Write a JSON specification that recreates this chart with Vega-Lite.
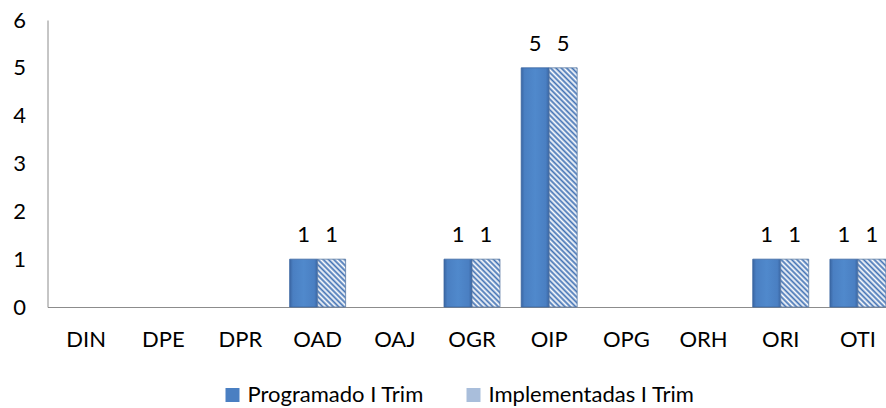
{
  "$schema": "https://vega.github.io/schema/vega-lite/v6.json",
  "autosize": {"type": "none"},
  "width": 838.5,
  "height": 287,
  "padding": {"left": 47.5, "top": 20, "right": 0, "bottom": 101},
  "background": "white",
  "config": {
    "view": {"stroke": null},
    "font": "Lato",
    "axis": {"labelFont": "Lato", "labelColor": "#000000", "labelFontSize": 22, "ticks": false, "grid": false, "domainColor": "#8c8c8c", "domainWidth": 1, "title": null},
    "legend": {"labelFont": "Lato", "labelFontSize": 22, "labelColor": "#000000", "labelLimit": 0}
  },
  "data": {
    "values": [
      {"cat": "DIN", "series": "Programado I Trim", "value": 0},
      {"cat": "DIN", "series": "Implementadas I Trim", "value": 0},
      {"cat": "DPE", "series": "Programado I Trim", "value": 0},
      {"cat": "DPE", "series": "Implementadas I Trim", "value": 0},
      {"cat": "DPR", "series": "Programado I Trim", "value": 0},
      {"cat": "DPR", "series": "Implementadas I Trim", "value": 0},
      {"cat": "OAD", "series": "Programado I Trim", "value": 1},
      {"cat": "OAD", "series": "Implementadas I Trim", "value": 1},
      {"cat": "OAJ", "series": "Programado I Trim", "value": 0},
      {"cat": "OAJ", "series": "Implementadas I Trim", "value": 0},
      {"cat": "OGR", "series": "Programado I Trim", "value": 1},
      {"cat": "OGR", "series": "Implementadas I Trim", "value": 1},
      {"cat": "OIP", "series": "Programado I Trim", "value": 5},
      {"cat": "OIP", "series": "Implementadas I Trim", "value": 5},
      {"cat": "OPG", "series": "Programado I Trim", "value": 0},
      {"cat": "OPG", "series": "Implementadas I Trim", "value": 0},
      {"cat": "ORH", "series": "Programado I Trim", "value": 0},
      {"cat": "ORH", "series": "Implementadas I Trim", "value": 0},
      {"cat": "ORI", "series": "Programado I Trim", "value": 1},
      {"cat": "ORI", "series": "Implementadas I Trim", "value": 1},
      {"cat": "OTI", "series": "Programado I Trim", "value": 1},
      {"cat": "OTI", "series": "Implementadas I Trim", "value": 1}
    ]
  },
  "encoding": {
    "x": {
      "field": "cat", "type": "nominal",
      "scale": {"domain": ["DIN","DPE","DPR","OAD","OAJ","OGR","OIP","OPG","ORH","ORI","OTI"], "range": [0, 849], "paddingInner": 0.275, "paddingOuter": 0.1375},
      "axis": {"labelAngle": 0, "labelPadding": 22, "title": null}
    },
    "xOffset": {
      "field": "series", "type": "nominal",
      "scale": {"domain": ["Programado I Trim", "Implementadas I Trim"], "paddingInner": 0, "paddingOuter": 0}
    },
    "y": {
      "field": "value", "type": "quantitative",
      "scale": {"domain": [0, 6], "nice": false},
      "axis": {"values": [0,1,2,3,4,5,6], "labelPadding": 22, "title": null}
    }
  },
  "layer": [
    {
      "transform": [{"filter": "datum.value > 0"}],
      "mark": {"type": "bar", "strokeWidth": 0.8},
      "encoding": {
        "stroke": {
          "condition": {"test": "datum.series === 'Programado I Trim'", "value": "#3a65a0"},
          "value": "#5b7aa3"
        },
        "fill": {
          "field": "series", "type": "nominal",
          "scale": {"domain": ["Programado I Trim", "Implementadas I Trim"], "range": ["#4a7fc2", "#a9bedb"]},
          "legend": {"orient": "none", "legendX": 174, "legendY": 364, "direction": "horizontal", "columns": 2, "title": null, "symbolType": "square", "symbolSize": 196, "symbolStrokeWidth": 0, "labelOffset": 4, "columnPadding": 38},
          "condition": [
            {"test": "datum.series === 'Programado I Trim'", "value": {"gradient": "linear", "x1": 0, "y1": 0, "x2": 1, "y2": 0, "stops": [
              {"offset": 0, "color": "#3a66a3"},
              {"offset": 0.12, "color": "#4a7fc2"},
              {"offset": 0.5, "color": "#5089cc"},
              {"offset": 0.88, "color": "#4a7fc2"},
              {"offset": 1, "color": "#3a66a3"}
            ]}},
            {"test": "datum.value >= 3", "value": {"gradient": "linear", "x1": 0, "y1": 1, "x2": 0.1291, "y2": -0.102, "stops": [
              {"offset":0,"color":"#4272b4"},{"offset":0.01,"color":"#ffffff"},{"offset":0.02,"color":"#4272b4"},{"offset":0.03,"color":"#ffffff"},{"offset":0.04,"color":"#4272b4"},{"offset":0.05,"color":"#ffffff"},{"offset":0.06,"color":"#4272b4"},{"offset":0.07,"color":"#ffffff"},{"offset":0.08,"color":"#4272b4"},{"offset":0.09,"color":"#ffffff"},
              {"offset":0.1,"color":"#4272b4"},{"offset":0.11,"color":"#ffffff"},{"offset":0.12,"color":"#4272b4"},{"offset":0.13,"color":"#ffffff"},{"offset":0.14,"color":"#4272b4"},{"offset":0.15,"color":"#ffffff"},{"offset":0.16,"color":"#4272b4"},{"offset":0.17,"color":"#ffffff"},{"offset":0.18,"color":"#4272b4"},{"offset":0.19,"color":"#ffffff"},
              {"offset":0.2,"color":"#4272b4"},{"offset":0.21,"color":"#ffffff"},{"offset":0.22,"color":"#4272b4"},{"offset":0.23,"color":"#ffffff"},{"offset":0.24,"color":"#4272b4"},{"offset":0.25,"color":"#ffffff"},{"offset":0.26,"color":"#4272b4"},{"offset":0.27,"color":"#ffffff"},{"offset":0.28,"color":"#4272b4"},{"offset":0.29,"color":"#ffffff"},
              {"offset":0.3,"color":"#4272b4"},{"offset":0.31,"color":"#ffffff"},{"offset":0.32,"color":"#4272b4"},{"offset":0.33,"color":"#ffffff"},{"offset":0.34,"color":"#4272b4"},{"offset":0.35,"color":"#ffffff"},{"offset":0.36,"color":"#4272b4"},{"offset":0.37,"color":"#ffffff"},{"offset":0.38,"color":"#4272b4"},{"offset":0.39,"color":"#ffffff"},
              {"offset":0.4,"color":"#4272b4"},{"offset":0.41,"color":"#ffffff"},{"offset":0.42,"color":"#4272b4"},{"offset":0.43,"color":"#ffffff"},{"offset":0.44,"color":"#4272b4"},{"offset":0.45,"color":"#ffffff"},{"offset":0.46,"color":"#4272b4"},{"offset":0.47,"color":"#ffffff"},{"offset":0.48,"color":"#4272b4"},{"offset":0.49,"color":"#ffffff"},
              {"offset":0.5,"color":"#4272b4"},{"offset":0.51,"color":"#ffffff"},{"offset":0.52,"color":"#4272b4"},{"offset":0.53,"color":"#ffffff"},{"offset":0.54,"color":"#4272b4"},{"offset":0.55,"color":"#ffffff"},{"offset":0.56,"color":"#4272b4"},{"offset":0.57,"color":"#ffffff"},{"offset":0.58,"color":"#4272b4"},{"offset":0.59,"color":"#ffffff"},
              {"offset":0.6,"color":"#4272b4"},{"offset":0.61,"color":"#ffffff"},{"offset":0.62,"color":"#4272b4"},{"offset":0.63,"color":"#ffffff"},{"offset":0.64,"color":"#4272b4"},{"offset":0.65,"color":"#ffffff"},{"offset":0.66,"color":"#4272b4"},{"offset":0.67,"color":"#ffffff"},{"offset":0.68,"color":"#4272b4"},{"offset":0.69,"color":"#ffffff"},
              {"offset":0.7,"color":"#4272b4"},{"offset":0.71,"color":"#ffffff"},{"offset":0.72,"color":"#4272b4"},{"offset":0.73,"color":"#ffffff"},{"offset":0.74,"color":"#4272b4"},{"offset":0.75,"color":"#ffffff"},{"offset":0.76,"color":"#4272b4"},{"offset":0.77,"color":"#ffffff"},{"offset":0.78,"color":"#4272b4"},{"offset":0.79,"color":"#ffffff"},
              {"offset":0.8,"color":"#4272b4"},{"offset":0.81,"color":"#ffffff"},{"offset":0.82,"color":"#4272b4"},{"offset":0.83,"color":"#ffffff"},{"offset":0.84,"color":"#4272b4"},{"offset":0.85,"color":"#ffffff"},{"offset":0.86,"color":"#4272b4"},{"offset":0.87,"color":"#ffffff"},{"offset":0.88,"color":"#4272b4"},{"offset":0.89,"color":"#ffffff"},
              {"offset":0.9,"color":"#4272b4"},{"offset":0.91,"color":"#ffffff"},{"offset":0.92,"color":"#4272b4"},{"offset":0.93,"color":"#ffffff"},{"offset":0.94,"color":"#4272b4"},{"offset":0.95,"color":"#ffffff"},{"offset":0.96,"color":"#4272b4"},{"offset":0.97,"color":"#ffffff"},{"offset":0.98,"color":"#4272b4"},{"offset":0.99,"color":"#ffffff"},
              {"offset":1,"color":"#4272b4"}
            ]}},
            {"test": "datum.value < 3", "value": {"gradient": "linear", "x1": 0, "y1": 1, "x2": 0.6916, "y2": -0.1807, "stops": [
              {"offset":0,"color":"#4272b4"},{"offset":0.035,"color":"#ffffff"},{"offset":0.07,"color":"#4272b4"},{"offset":0.105,"color":"#ffffff"},{"offset":0.14,"color":"#4272b4"},{"offset":0.175,"color":"#ffffff"},{"offset":0.21,"color":"#4272b4"},{"offset":0.245,"color":"#ffffff"},{"offset":0.28,"color":"#4272b4"},{"offset":0.315,"color":"#ffffff"},
              {"offset":0.35,"color":"#4272b4"},{"offset":0.385,"color":"#ffffff"},{"offset":0.42,"color":"#4272b4"},{"offset":0.455,"color":"#ffffff"},{"offset":0.49,"color":"#4272b4"},{"offset":0.525,"color":"#ffffff"},{"offset":0.56,"color":"#4272b4"},{"offset":0.595,"color":"#ffffff"},{"offset":0.63,"color":"#4272b4"},{"offset":0.665,"color":"#ffffff"},
              {"offset":0.7,"color":"#4272b4"},{"offset":0.735,"color":"#ffffff"},{"offset":0.77,"color":"#4272b4"},{"offset":0.805,"color":"#ffffff"},{"offset":0.84,"color":"#4272b4"},{"offset":0.875,"color":"#ffffff"},{"offset":0.91,"color":"#4272b4"},{"offset":0.945,"color":"#ffffff"},{"offset":0.98,"color":"#4272b4"}
            ]}}
          ]
        }
      }
    },
    {
      "transform": [{"filter": "datum.value > 0"}],
      "mark": {"type": "text", "baseline": "alphabetic", "dy": -17, "fontSize": 22, "font": "Lato", "color": "#000000"},
      "encoding": {
        "text": {"field": "value", "type": "quantitative"}
      }
    }
  ]
}
